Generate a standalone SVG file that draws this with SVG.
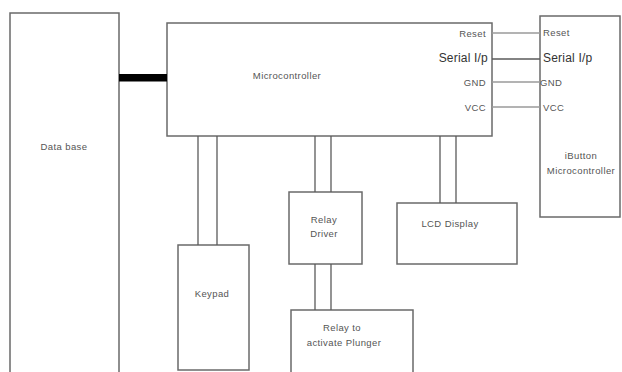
<svg xmlns="http://www.w3.org/2000/svg" width="622" height="372" viewBox="0 0 622 372">
<style>
.box{fill:#fff;stroke:#6a6a6a;stroke-width:1.5}
.ln{stroke:#5a5a5a;stroke-width:1.3;fill:none}
.lg{stroke:#9a9a9a;stroke-width:1.5;fill:none}
text{font-family:"Liberation Sans",Arial,sans-serif;font-size:9.5px;letter-spacing:0.4px;fill:#555}
.big{font-size:12px;letter-spacing:0.2px;fill:#333}
</style>
<rect width="622" height="372" fill="#fff"/>
<g id="database"><path class="box" d="M10,373 V13 H119 V373"/><text x="64" y="150" text-anchor="middle">Data base</text></g>
<g id="microcontroller"><rect class="box" x="167" y="23" width="325" height="113"/><text x="287" y="79" text-anchor="middle">Microcontroller</text>
<text x="486" y="37" text-anchor="end">Reset</text>
<text class="big" x="488" y="62" text-anchor="end">Serial I/p</text>
<text x="486" y="86" text-anchor="end">GND</text>
<text x="486" y="111" text-anchor="end">VCC</text></g>
<g id="ibutton"><rect class="box" x="540" y="16" width="80" height="201"/>
<text x="543" y="36">Reset</text>
<text class="big" x="543" y="62">Serial I/p</text>
<text x="540" y="86">GND</text>
<text x="543" y="111">VCC</text>
<text x="581" y="159" text-anchor="middle">iButton</text>
<text x="581" y="174" text-anchor="middle">Microcontroller</text></g>
<g id="keypad"><rect class="box" x="178" y="245" width="71" height="125"/><text x="212" y="297" text-anchor="middle">Keypad</text></g>
<g id="relaydriver"><rect class="box" x="289" y="192" width="73" height="72"/><text x="324" y="223" text-anchor="middle">Relay</text><text x="324" y="237" text-anchor="middle">Driver</text></g>
<g id="lcd"><rect class="box" x="397" y="203" width="120" height="61"/><text x="450" y="227" text-anchor="middle">LCD Display</text></g>
<g id="relay"><path class="box" d="M291,373 V310 H413 V373"/><text x="342" y="331" text-anchor="middle">Relay to</text><text x="344" y="346" text-anchor="middle">activate Plunger</text></g>
<g id="connectors">
<rect x="119" y="74" width="48" height="7.5" fill="#000"/>
<line class="lg" x1="492" y1="33" x2="540" y2="33"/>
<line class="ln" x1="492" y1="59" x2="540" y2="59"/>
<line class="lg" x1="492" y1="82" x2="540" y2="82"/>
<line class="lg" x1="492" y1="107" x2="540" y2="107"/>
<line class="ln" x1="198" y1="136" x2="198" y2="245"/>
<line class="ln" x1="217" y1="136" x2="217" y2="245"/>
<line class="ln" x1="315" y1="136" x2="315" y2="192"/>
<line class="ln" x1="331" y1="136" x2="331" y2="192"/>
<line class="ln" x1="315" y1="264" x2="315" y2="310"/>
<line class="ln" x1="331" y1="264" x2="331" y2="310"/>
<line class="ln" x1="440" y1="136" x2="440" y2="203"/>
<line class="ln" x1="456" y1="136" x2="456" y2="203"/>
</g>
</svg>
